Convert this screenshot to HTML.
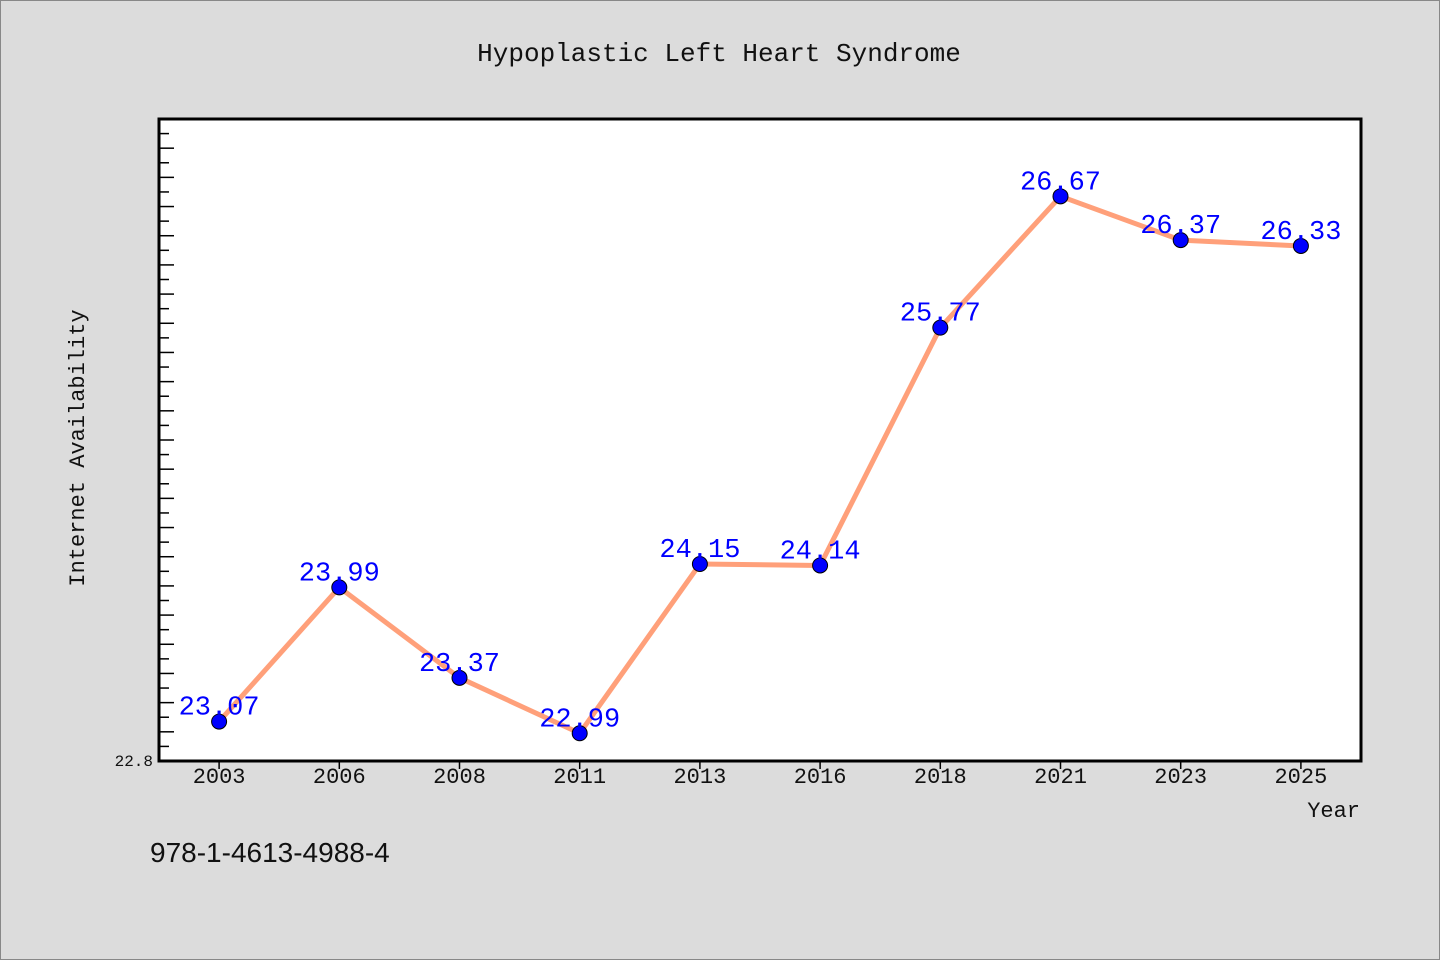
<!DOCTYPE html>
<html><head><meta charset="utf-8">
<style>
html,body{margin:0;padding:0;background:#dcdcdc;}
svg{display:block;font-family:"Liberation Mono","DejaVu Sans Mono",monospace;}
</style></head>
<body>
<svg id="chart" width="1440" height="960" viewBox="0 0 1440 960">
<rect x="0.5" y="0.5" width="1439" height="959" fill="#dcdcdc" stroke="#888"/>
<text x="719" y="61" text-anchor="middle" font-size="26" fill="#111">Hypoplastic Left Heart Syndrome</text>
<rect x="159" y="119" width="1202" height="642" fill="#fff" stroke="#000" stroke-width="3"/>
<g id="ticks"></g>
<g id="series"></g>
<text x="84" y="448" text-anchor="middle" font-size="22" fill="#111" transform="rotate(-90 84 448)">Internet Availability</text>
<text x="1360" y="817" text-anchor="end" font-size="22" fill="#111">Year</text>
<text x="150" y="862" font-family="'Liberation Sans',sans-serif" font-size="28" fill="#111">978-1-4613-4988-4</text>
</svg>
<script>
const categories = ["2003","2006","2008","2011","2013","2016","2018","2021","2023","2025"];
const values = [23.07,23.99,23.37,22.99,24.15,24.14,25.77,26.67,26.37,26.33];
const yMin = 22.8, yMax = 27.2;
const yTickLabels = ["22.8"];
const NS = "http://www.w3.org/2000/svg";
const L = 159, R = 1361, T = 119, B = 761;
const band = (R - L) / categories.length;
const xs = i => L + band * (i + 0.5);
const ys = v => B - (v - yMin) / (yMax - yMin) * (B - T);
function mk(tag, attrs, parent){const e=document.createElementNS(NS,tag);for(const k in attrs)e.setAttribute(k,attrs[k]);parent.appendChild(e);return e;}
const tg = document.getElementById("ticks");
const nT = Math.round((yMax - yMin) / 0.1);
for (let k = 1; k < nT; k++) {
  const y = ys(yMin + k * 0.1);
  const len = (k % 2 === 0) ? 15 : 10;
  const t = mk("line",{x1:L,x2:L+len,y1:y,y2:y,stroke:"#000","stroke-width":1.5},tg);
  
  
}
yTickLabels.forEach(lbl => {
  const t = mk("text",{x:L-6,y:ys(parseFloat(lbl))+5,"text-anchor":"end","font-size":16,fill:"#111"},tg);
  t.textContent = lbl;
  
  
});
categories.forEach((c,i) => {
  const x = xs(i);
  const t = mk("line",{x1:x,x2:x,y1:B,y2:B+8,stroke:"#000","stroke-width":1.5},tg);
  
  
  const l = mk("text",{x:x,y:B+22,"text-anchor":"middle","font-size":22,fill:"#111"},tg);
  l.textContent = c;
  
  
});
const sg = document.getElementById("series");
const pts = values.map((v,i) => xs(i)+","+ys(v)).join(" ");
const line = mk("polyline",{points:pts,fill:"none",stroke:"#ffa07a","stroke-width":5,"stroke-linejoin":"round"},sg);


values.forEach((v,i) => {
  const c = mk("circle",{cx:xs(i),cy:ys(v),r:7.5,fill:"#0000ff",stroke:"#000","stroke-width":1},sg);
  
  
});
values.forEach((v,i) => {
  const t = mk("text",{x:xs(i),y:ys(v)-7,"text-anchor":"middle","font-size":27,fill:"#0000ff"},sg);
  t.textContent = v.toFixed(2);
  
  
});
</script>
</body></html>
